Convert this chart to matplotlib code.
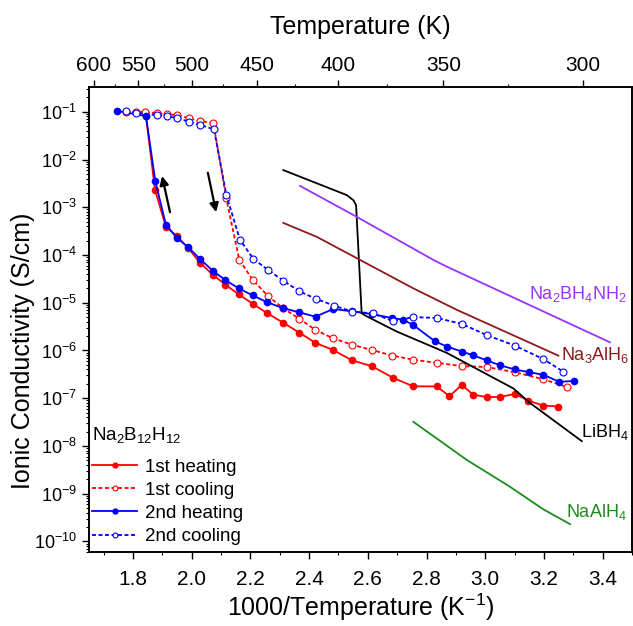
import numpy as np
import matplotlib
matplotlib.use('Agg')
import matplotlib.pyplot as plt
from matplotlib.lines import Line2D
from matplotlib.ticker import LogLocator, MultipleLocator

plt.rcParams['font.family'] = ['Liberation Sans', 'DejaVu Sans']
plt.rcParams['mathtext.fontset'] = 'custom'
plt.rcParams['mathtext.rm'] = 'Liberation Sans'
plt.rcParams['mathtext.it'] = 'Liberation Sans:italic'
plt.rcParams['mathtext.default'] = 'regular'

# Na2B12H12 - 1st heating (filled red)
heat1_x = [1.844, 1.875, 1.912, 1.949, 1.988, 2.028, 2.071, 2.114, 2.160, 2.208,
           2.256, 2.312, 2.367, 2.421, 2.482, 2.546, 2.613, 2.687, 2.755, 2.835,
           2.878, 2.920, 2.959, 3.005, 3.050, 3.101, 3.147, 3.198, 3.249]
heat1_y = [8.1e-2, 2.3e-3, 3.9e-4, 2.5e-4, 1.39e-4, 6.9e-5, 3.9e-5, 2.4e-5, 1.5e-5, 9.5e-6,
           6.1e-6, 3.8e-6, 2.35e-6, 1.45e-6, 1.02e-6, 6.2e-7, 4.7e-7, 2.65e-7, 1.77e-7, 1.77e-7,
           1.1e-7, 1.9e-7, 1.18e-7, 1.06e-7, 1.06e-7, 1.23e-7, 8.9e-8, 7.0e-8, 6.7e-8]

# 1st cooling (open red)
cool1_x = [1.776, 1.810, 1.841, 1.881, 1.917, 1.951, 1.991, 2.028, 2.074, 2.117,
           2.162, 2.208, 2.259, 2.312, 2.367, 2.421, 2.481, 2.546, 2.614, 2.684,
           2.755, 2.835, 2.920, 3.005, 3.101, 3.198, 3.280]
cool1_y = [1.0e-1, 1.0e-1, 9.8e-2, 9.3e-2, 8.9e-2, 8.5e-2, 7.3e-2, 6.5e-2, 5.7e-2, 1.6e-3,
           7.9e-5, 3.0e-5, 1.4e-5, 7.6e-6, 4.6e-6, 2.7e-6, 1.8e-6, 1.32e-6, 1.02e-6, 7.8e-7,
           6.4e-7, 5.5e-7, 4.7e-7, 4.5e-7, 3.5e-7, 2.5e-7, 1.7e-7]

# 2nd heating (filled blue)
heat2_x = [1.744, 1.844, 1.876, 1.912, 1.949, 1.988, 2.028, 2.071, 2.114, 2.160,
           2.208, 2.256, 2.311, 2.366, 2.422, 2.482, 2.546, 2.613, 2.681, 2.721,
           2.755, 2.829, 2.869, 2.920, 2.959, 3.005, 3.050, 3.101, 3.150, 3.198,
           3.252, 3.303]
heat2_y = [1.05e-1, 8.1e-2, 3.5e-3, 4.3e-4, 2.3e-4, 1.45e-4, 8.3e-5, 4.7e-5, 3.0e-5, 2.0e-5,
           1.42e-5, 1.03e-5, 7.7e-6, 6.3e-6, 5.1e-6, 7.4e-6, 6.6e-6, 5.8e-6, 4.8e-6, 4.4e-6,
           3.4e-6, 1.55e-6, 1.21e-6, 9.5e-7, 7.9e-7, 6.2e-7, 4.9e-7, 4.0e-7, 3.5e-7, 3.1e-7,
           2.2e-7, 2.3e-7]

# 2nd cooling (open blue)
cool2_x = [1.776, 1.810, 1.881, 1.917, 1.951, 1.991, 2.028, 2.076, 2.118, 2.164,
           2.210, 2.259, 2.312, 2.367, 2.424, 2.485, 2.547, 2.616, 2.687, 2.755,
           2.835, 2.920, 3.005, 3.101, 3.198, 3.266]
cool2_y = [1.05e-1, 9.5e-2, 8.5e-2, 8.1e-2, 7.3e-2, 6.2e-2, 5.3e-2, 4.3e-2, 1.8e-3, 2.1e-4,
           8.3e-5, 4.9e-5, 2.9e-5, 1.73e-5, 1.2e-5, 8.7e-6, 6.5e-6, 6.0e-6, 4.1e-6, 5.0e-6,
           4.8e-6, 3.6e-6, 2.1e-6, 1.26e-6, 6.6e-7, 3.6e-7]

# Reference materials
libh4_x = [2.312, 2.528, 2.551, 2.560, 2.579, 2.596, 2.698, 2.869, 3.096, 3.153, 3.329]
libh4_y = [6.0e-3, 1.8e-3, 1.4e-3, 1.1e-3, 6.0e-6, 5.2e-6, 2.5e-6, 8.9e-7, 1.6e-7, 7.9e-8, 1.26e-8]

nabh4nh2_x = [2.369, 2.562, 2.823, 2.869, 3.425]
nabh4nh2_y = [2.8e-3, 6.3e-4, 7.9e-5, 5.7e-5, 1.48e-6]

na3alh6_x = [2.312, 2.426, 2.755, 2.903, 3.249]
na3alh6_y = [4.7e-4, 2.4e-4, 2.0e-5, 7.1e-6, 7.8e-7]

naalh4_x = [2.755, 2.937, 3.084, 3.198, 3.289]
naalh4_y = [3.2e-8, 5.1e-9, 1.4e-9, 4.7e-10, 2.3e-10]

top_temps = [600, 550, 500, 450, 400, 350, 300]
top_minor = [575, 525, 475, 425, 375, 325]

red = '#FF0000'
blue = '#0000FF'
dash = (0, (2.2, 1.4))

fig = plt.figure(figsize=(6.33, 6.26), dpi=100)
ax = fig.add_axes([0.1406, 0.1182, 0.8578, 0.7428])

ax.plot(heat1_x, heat1_y, '-', color=red, lw=1.3, marker='o', ms=4.5)
ax.plot(cool1_x, cool1_y, color=red, lw=1.3, ls=dash, marker='o', ms=5,
        mfc='white', mec=red, mew=0.8)
ax.plot(heat2_x, heat2_y, '-', color=blue, lw=1.3, marker='o', ms=4.5)
ax.plot(cool2_x, cool2_y, color=blue, lw=1.3, ls=dash, marker='o', ms=5,
        mfc='white', mec=blue, mew=0.8)

ax.plot(libh4_x, libh4_y, color='black', lw=1.3)
ax.plot(nabh4nh2_x, nabh4nh2_y, color='#9933FF', lw=1.3)
ax.plot(na3alh6_x, na3alh6_y, color='#8B1A1A', lw=1.3)
ax.plot(naalh4_x, naalh4_y, color='#1E8B1E', lw=1.3)

# labels next to the reference lines
ax.text(3.150, 1.2e-5, 'Na$_2$BH$_4$NH$_2$', color='#9933FF', fontsize=13, va='baseline')
ax.text(3.258, 6.4e-7, 'Na$_3$AlH$_6$', color='#8B1A1A', fontsize=13, va='baseline')
ax.text(3.325, 1.55e-8, 'LiBH$_4$', color='black', fontsize=13, va='baseline')
ax.text(3.275, 3.2e-10, 'NaAlH$_4$', color='#1E8B1E', fontsize=13, va='baseline')

# heating / cooling arrows
ax.annotate('', xy=(1.897, 10**-2.29), xytext=(1.928, 10**-3.16),
            arrowprops=dict(arrowstyle='-|>', color='black', lw=1.6, mutation_scale=13))
ax.annotate('', xy=(2.085, 10**-3.16), xytext=(2.053, 10**-2.22),
            arrowprops=dict(arrowstyle='-|>', color='black', lw=1.6, mutation_scale=13))

ax.set_yscale('log')
ax.set_xlim(1.65, 3.5)
ax.set_ylim(6e-11, 0.33)
ax.xaxis.set_major_locator(MultipleLocator(0.2))
ax.xaxis.set_minor_locator(MultipleLocator(0.1))
ax.xaxis.set_major_formatter(matplotlib.ticker.FormatStrFormatter('%.1f'))
ax.yaxis.set_major_locator(LogLocator(base=10, numticks=20))
ax.yaxis.set_minor_locator(LogLocator(base=10, subs=np.arange(2, 10), numticks=200))
ax.tick_params(which='both', direction='out', top=False, right=False)
ax.tick_params(which='major', length=5, width=1, labelsize=15)
ax.tick_params(axis='x', which='major', pad=8)
ax.tick_params(axis='y', which='major', labelsize=13)
ax.tick_params(which='minor', length=2.5, width=0.8)
ax.set_xlabel('1000/Temperature (K$^{-1}$)', fontsize=18, labelpad=2)
ax.set_ylabel('Ionic Conductivity (S/cm)', fontsize=18)
ax.yaxis.set_label_coords(-0.099, 0.432)

# Temperature axis on top
ax2 = ax.twiny()
ax2.set_xlim(ax.get_xlim())
ax2.set_xticks([1000.0 / t for t in top_temps])
ax2.set_xticklabels([str(t) for t in top_temps])
ax2.set_xticks([1000.0 / t for t in top_minor], minor=True)
ax2.tick_params(which='both', direction='out')
ax2.tick_params(which='major', length=5, width=1, labelsize=15)
ax2.tick_params(which='minor', length=2.5, width=0.8)
ax2.set_xlabel('Temperature (K)', fontsize=18, labelpad=16)

for a in (ax, ax2):
    for s in a.spines.values():
        s.set_linewidth(1.2)

handles = [
    Line2D([], [], color=red, lw=1.3, marker='o', ms=3.5),
    Line2D([], [], color=red, lw=1.3, ls=dash, marker='o', ms=3.5, mfc='white', mec=red, mew=0.8),
    Line2D([], [], color=blue, lw=1.3, marker='o', ms=3.5),
    Line2D([], [], color=blue, lw=1.3, ls=dash, marker='o', ms=3.5, mfc='white', mec=blue, mew=0.8),
]
leg = ax.legend(handles, ['1st heating', '1st cooling', '2nd heating', '2nd cooling'],
                title='Na$_2$B$_{12}$H$_{12}$', loc='upper left', bbox_to_anchor=(-0.025, 0.31),
                frameon=False, fontsize=13.5, title_fontsize=13.5, alignment='left',
                handlelength=2.4, handletextpad=0.4, labelspacing=0.32)
leg._legend_box.sep = 10

fig.savefig('out.png', dpi=100)
